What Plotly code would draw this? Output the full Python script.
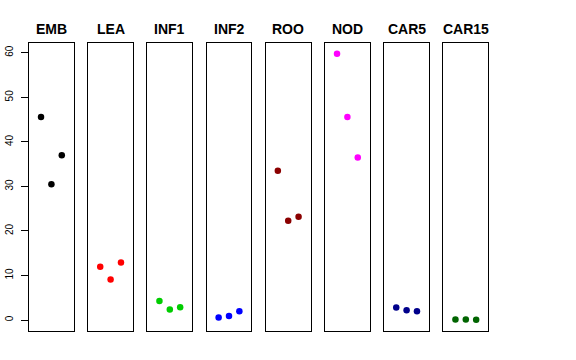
import plotly.graph_objects as go

tissues = ["EMB", "LEA", "INF1", "INF2", "ROO", "NOD", "CAR5", "CAR15"]
colors = ["#000000", "#FF0000", "#00CD00", "#0000FF", "#8B0000", "#FF00FF", "#00008B", "#006400"]
replicate = [1, 2, 3]
EMB = [45.6, 30.5, 37.0]
LEA = [12.0, 9.1, 12.9]
INF1 = [4.3, 2.4, 2.9]
INF2 = [0.6, 0.9, 2.0]
ROO = [33.5, 22.3, 23.2]
NOD = [59.8, 45.6, 36.5]
CAR5 = [2.8, 2.2, 2.0]
CAR15 = [0.15, 0.15, 0.1]
values = [EMB, LEA, INF1, INF2, ROO, NOD, CAR5, CAR15]
yticks = [0, 10, 20, 30, 40, 50, 60]

W, H = 576, 360
fig = go.Figure()
left0, pitch, pw = 29.0, 59.2, 44.8
top, bottom = 43.0, 331.0
ydom = [(H - bottom) / H, (H - top) / H]
yrange = [-2.45, 62.2]
xrange = [-0.16, 4.16]

layout = dict(width=W, height=H, margin=dict(l=0, r=0, t=0, b=0, pad=0),
              paper_bgcolor="white", plot_bgcolor="white", showlegend=False,
              font=dict(family="Liberation Sans, Arial, sans-serif", color="black"))
annotations = []
for i, (name, col, vals) in enumerate(zip(tissues, colors, values)):
    sfx = "" if i == 0 else str(i + 1)
    fig.add_trace(go.Scatter(x=replicate, y=vals, mode="markers",
                             marker=dict(color=col, size=6.5, line=dict(width=0)),
                             xaxis="x" + sfx, yaxis="y" + sfx, name=name))
    x0 = (left0 + pitch * i) / W
    x1 = (left0 + pitch * i + pw) / W
    layout["xaxis" + sfx] = dict(domain=[x0, x1], range=xrange, showgrid=False,
                                 zeroline=False, showticklabels=False, ticks="",
                                 showline=True, mirror=True, linecolor="black",
                                 linewidth=1, anchor="y" + sfx, automargin=False)
    ya = dict(domain=ydom, range=yrange, showgrid=False, zeroline=False,
              showline=True, mirror=True, linecolor="black", linewidth=1,
              anchor="x" + sfx, automargin=False)
    if i == 0:
        ya.update(tickmode="array", tickvals=yticks, ticktext=[str(t) for t in yticks],
                  ticks="outside", ticklen=7, tickcolor="black", tickwidth=1,
                  tickangle=-90, tickfont=dict(size=10, color="black"),
                  ticklabelstandoff=4)
    else:
        ya.update(showticklabels=False, ticks="")
    layout["yaxis" + sfx] = ya
    annotations.append(dict(text="<b>%s</b>" % name, x=(x0 + x1) / 2, y=(H - 29) / H,
                            xref="paper", yref="paper", showarrow=False,
                            xanchor="center", yanchor="middle",
                            font=dict(size=14, color="black")))
layout["annotations"] = annotations
fig.update_layout(**layout)
fig.write_html("out.html", config={"displayModeBar": False},
               post_script="document.body.style.margin='0';document.body.style.overflow='hidden';")
